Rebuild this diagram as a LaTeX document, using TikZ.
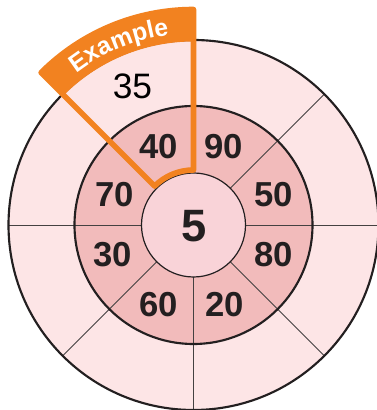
\documentclass[tikz,border=0pt]{standalone}
\usepackage{fontspec}
\setmainfont{Liberation Sans}
\usetikzlibrary{decorations.text}
\definecolor{outerpink}{HTML}{FDE5E6}
\definecolor{midpink}{HTML}{F2BBBB}
\definecolor{innerpink}{HTML}{F9D3D8}
\definecolor{exorange}{HTML}{F28220}
\definecolor{inkdark}{HTML}{231F20}
\begin{document}
\begin{tikzpicture}[x=0.75pt,y=0.75pt,
  ring/.style={draw=inkdark,line width=1.6pt},
  spoke/.style={draw=inkdark!85,line width=0.7pt},
  midnum/.style={text=inkdark,inner sep=0pt,font=\bfseries\fontsize{26}{26}\selectfont},
  outnum/.style={text=black,inner sep=0pt,font=\fontsize{26.5}{26.5}\selectfont},
  cennum/.style={text=inkdark,inner sep=0pt,font=\bfseries\fontsize{34}{34}\selectfont},
  exline/.style={draw=exorange,line width=4.2pt,line join=round}]
\useasboundingbox (0,0) rectangle (376,410);
\begin{scope}[shift={(193.5,185)}]
  \fill[outerpink] (0,0) circle[radius=185];
  \fill[midpink] (0,0) circle[radius=119];
  \foreach \a in {0,45,...,315} \draw[spoke] (\a:52) -- (\a:185);
  \draw[ring] (0,0) circle[radius=185];
  \draw[ring] (0,0) circle[radius=119];
  \draw[draw=inkdark,line width=0.9pt,fill=innerpink] (0,0) circle[radius=52];
  % numbers
  \node[cennum] (c5) at (0.5,-1) {5};
  \node[midnum] (n40) at (-34.5,78) {40};
  \node[midnum] (n90) at (30.5,78) {90};
  \node[midnum] (n70) at (-78.5,30) {70};
  \node[midnum] (n50) at (80.5,30) {50};
  \node[midnum] (n30) at (-80.5,-30) {30};
  \node[midnum] (n80) at (80.5,-30) {80};
  \node[midnum] (n60) at (-34.5,-80) {60};
  \node[midnum] (n20) at (31.5,-80) {20};
  \node[outnum] (n35) at (-61,138.8) {35};
  % example sector
  \fill[exorange] (90:183.5) -- (90:215.5) arc[start angle=90,end angle=135,radius=215.5]
     -- (135:183.5) arc[start angle=135,end angle=90,radius=183.5] -- cycle;
  \draw[exline] (90:55) -- (90:215.5) arc[start angle=90,end angle=135,radius=215.5]
     -- (135:55) arc[start angle=135,end angle=90,radius=55] -- cycle;
  \path[decorate,decoration={text along path,text color=white,text align=center,
     text={|\bfseries\fontsize{18.5}{18.5}\selectfont|Example}}]
     (135:191.5) arc[start angle=135,end angle=90,radius=191.5];
\end{scope}
\end{tikzpicture}
\end{document}
